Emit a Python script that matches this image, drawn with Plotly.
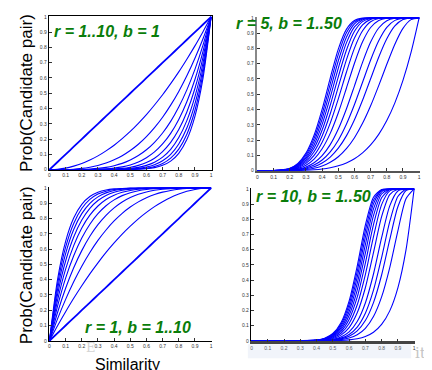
import plotly.graph_objects as go

# ---------------- data ----------------
TICKS = [0, 0.1, 0.2, 0.3, 0.4, 0.5, 0.6, 0.7, 0.8, 0.9, 1]
TICK_TEXT = ["0", "0.1", "0.2", "0.3", "0.4", "0.5", "0.6", "0.7", "0.8", "0.9", "1"]

# top-left: r = 1..10, b = 1
TL_SIM = [0, .05, .1, .15, .2, .25, .3, .35, .4, .45, .5, .55, .6, .65, .7, .75, .8, .85, .9, .95, 1]
TL_R = [1, 2, 3, 4, 5, 6, 7, 8, 9, 10]
TL_PROB = [
    [0, .05, .1, .15, .2, .25, .3, .35, .4, .45, .5, .55, .6, .65, .7, .75, .8, .85, .9, .95, 1],
    [0, .003, .01, .023, .04, .063, .09, .123, .16, .203, .25, .303, .36, .423, .49, .563, .64, .723, .81, .903, 1],
    [0, 0, .001, .003, .008, .016, .027, .043, .064, .091, .125, .166, .216, .275, .343, .422, .512, .614, .729, .857, 1],
    [0, 0, 0, .001, .002, .004, .008, .015, .026, .041, .063, .092, .13, .179, .24, .316, .41, .522, .656, .815, 1],
    [0, 0, 0, 0, 0, .001, .002, .005, .01, .018, .031, .05, .078, .116, .168, .237, .328, .444, .59, .774, 1],
    [0, 0, 0, 0, 0, 0, .001, .002, .004, .008, .016, .028, .047, .075, .118, .178, .262, .377, .531, .735, 1],
    [0, 0, 0, 0, 0, 0, 0, .001, .002, .004, .008, .015, .028, .049, .082, .133, .21, .321, .478, .698, 1],
    [0, 0, 0, 0, 0, 0, 0, 0, .001, .002, .004, .008, .017, .032, .058, .1, .168, .272, .43, .663, 1],
    [0, 0, 0, 0, 0, 0, 0, 0, 0, .001, .002, .005, .01, .021, .04, .075, .134, .232, .387, .63, 1],
    [0, 0, 0, 0, 0, 0, 0, 0, 0, 0, .001, .003, .006, .013, .028, .056, .107, .197, .349, .599, 1],
]

# top-right: r = 5, b = 1..50
TR_SIM = [0, .1, .2, .25, .3, .35, .4, .45, .5, .55, .6, .65, .7, .75, .8, .85, .9, .95, 1]
TR_B = [1, 3, 5, 7, 10, 15, 20, 25, 30, 35, 40, 45, 50]
TR_PROB = [
    [0, 0, .0003, .001, .0024, .0053, .0102, .0185, .0313, .0503, .0778, .116, .1681, .2373, .3277, .4437, .5905, .7738, 1],
    [0, 0, .001, .0029, .0073, .0157, .0304, .0543, .0909, .1435, .2156, .3093, .4243, .5564, .696, .8278, .9313, .9884, 1],
    [0, 0, .0016, .0049, .0121, .026, .0502, .0889, .1468, .2276, .3329, .4603, .6015, .742, .8626, .9467, .9885, .9994, 1],
    [0, 0, .0022, .0068, .0169, .0362, .0695, .1222, .1993, .3034, .4325, .5782, .7242, .8499, .9379, .9835, .9981, 1, 1],
    [0, 0, .0032, .0097, .024, .0513, .0978, .1699, .272, .4033, .5549, .7087, .8412, .9334, .9811, .9972, .9999, 1, 1],
    [0, 0, .0048, .0146, .0358, .0759, .1431, .2437, .379, .5392, .703, .8428, .9367, .9828, .9974, .9998, 1, 1, 1],
    [0, 0, .0064, .0194, .0475, .0999, .1861, .311, .47, .644, .8019, .9151, .9748, .9956, .9996, 1, 1, 1, 1],
    [0, 0, .008, .0241, .059, .1233, .2269, .3722, .5478, .725, .8678, .9542, .99, .9989, 1, 1, 1, 1, 1],
    [0, 0, .0096, .0289, .0704, .1461, .2656, .428, .6142, .7876, .9118, .9753, .996, .9997, 1, 1, 1, 1, 1],
    [0, 0, .0111, .0336, .0816, .1683, .3025, .4789, .6709, .8359, .9412, .9866, .9984, 1, 1, 1, 1, 1, 1],
    [0, 0, .0127, .0383, .0927, .1899, .3375, .5252, .7192, .8733, .9607, .9928, .9994, 1, 1, 1, 1, 1, 1],
    [0, 0, .0143, .043, .1037, .211, .3707, .5674, .7604, .9021, .9738, .9961, .9997, 1, 1, 1, 1, 1, 1],
    [0, 0, .0159, .0477, .1145, .2314, .4023, .6059, .7956, .9244, .9825, .9979, .9999, 1, 1, 1, 1, 1, 1],
]

# bottom-left: r = 1, b = 1..10
BL_SIM = [0, .05, .1, .15, .2, .25, .3, .35, .4, .45, .5, .55, .6, .65, .7, .75, .8, .85, .9, .95, 1]
BL_B = [1, 2, 3, 4, 5, 6, 7, 8, 9, 10]
BL_PROB = [
    [0, .05, .1, .15, .2, .25, .3, .35, .4, .45, .5, .55, .6, .65, .7, .75, .8, .85, .9, .95, 1],
    [0, .098, .19, .278, .36, .438, .51, .578, .64, .698, .75, .798, .84, .878, .91, .938, .96, .978, .99, .998, 1],
    [0, .143, .271, .386, .488, .578, .657, .725, .784, .834, .875, .909, .936, .957, .973, .984, .992, .997, .999, 1, 1],
    [0, .185, .344, .478, .59, .684, .76, .821, .87, .908, .937, .959, .974, .985, .992, .996, .998, .999, 1, 1, 1],
    [0, .226, .41, .556, .672, .763, .832, .884, .922, .95, .969, .982, .99, .995, .998, .999, 1, 1, 1, 1, 1],
    [0, .265, .469, .623, .738, .822, .882, .925, .953, .972, .984, .992, .996, .998, .999, 1, 1, 1, 1, 1, 1],
    [0, .302, .522, .679, .79, .867, .918, .951, .972, .985, .992, .996, .998, .999, 1, 1, 1, 1, 1, 1, 1],
    [0, .337, .57, .728, .832, .9, .942, .968, .983, .992, .996, .998, .999, 1, 1, 1, 1, 1, 1, 1, 1],
    [0, .37, .613, .768, .866, .925, .96, .979, .99, .995, .998, .999, 1, 1, 1, 1, 1, 1, 1, 1, 1],
    [0, .401, .651, .803, .893, .944, .972, .987, .994, .997, .999, 1, 1, 1, 1, 1, 1, 1, 1, 1, 1],
]

# bottom-right: r = 10, b = 1..50
BR_SIM = [0, .2, .4, .45, .5, .55, .6, .65, .7, .75, .8, .85, .9, .95, 1]
BR_B = [1, 3, 5, 7, 10, 15, 20, 25, 30, 35, 40, 45, 50]
BR_PROB = [
    [0, 0, .0001, .0003, .001, .0025, .006, .0135, .0282, .0563, .1074, .1969, .3487, .5987, 1],
    [0, 0, .0003, .001, .0029, .0076, .018, .0399, .0824, .1596, .2888, .482, .7237, .9354, 1],
    [0, 0, .0005, .0017, .0049, .0126, .0299, .0655, .1335, .2516, .4333, .6659, .8828, .9896, 1],
    [0, 0, .0007, .0024, .0068, .0176, .0416, .0905, .1817, .3335, .5485, .7845, .9503, .9983, 1],
    [0, 0, .001, .0034, .0097, .025, .0588, .1268, .2492, .4399, .6789, .8884, .9863, .9999, 1],
    [0, 0, .0016, .0051, .0145, .0373, .087, .184, .3494, .5808, .818, .9627, .9984, 1, 1],
    [0, 0, .0021, .0068, .0193, .0495, .1142, .2374, .4362, .6863, .8969, .9875, .9998, 1, 1],
    [0, 0, .0026, .0085, .0241, .0614, .1407, .2874, .5115, .7652, .9416, .9958, 1, 1, 1],
    [0, 0, .0031, .0101, .0289, .0733, .1664, .3341, .5767, .8243, .9669, .9986, 1, 1, 1],
    [0, 0, .0037, .0118, .0336, .0849, .1912, .3777, .6332, .8685, .9812, .9995, 1, 1, 1],
    [0, 0, .0042, .0135, .0383, .0965, .2154, .4185, .6821, .9016, .9894, .9998, 1, 1, 1],
    [0, 0, .0047, .0152, .043, .1079, .2389, .4567, .7246, .9264, .994, 1, 1, 1, 1],
    [0, 0, .0052, .0169, .0477, .1191, .2616, .4923, .7613, .9449, .9966, 1, 1, 1, 1],
]

PANEL_LABELS = ["r = 1..10, b = 1", "r = 5, b = 1..50", "r = 1, b = 1..10", "r = 10, b = 1..50"]
Y_TITLE = "Prob(Candidate pair)"
X_TITLE = "Similarity"

# ---------------- layout helpers ----------------
W, H = 432, 370
BLUE = "#0000FF"
GREEN = "#0A7D0A"
FONT = "Liberation Sans, Arial, sans-serif"


def xd(a, b):
    return [a / W, b / W]


def yd(top, bottom):
    return [1 - bottom / H, 1 - top / H]


fig = go.Figure()

panels = [
    (TL_SIM, TL_PROB, "x", "y"),
    (TR_SIM, TR_PROB, "x2", "y2"),
    (BL_SIM, BL_PROB, "x3", "y3"),
    (BR_SIM, BR_PROB, "x4", "y4"),
]

for pi, (sim, curves, xa, ya) in enumerate(panels):
    for ci, vals in enumerate(curves):
        w = 1.1
        if ci == 0 and pi in (0, 2):
            w = 1.8
        fig.add_trace(go.Scatter(
            x=sim, y=vals, xaxis=xa, yaxis=ya, mode="lines",
            line=dict(color=BLUE, width=w, shape="spline", smoothing=0.7),
            showlegend=False, hoverinfo="skip",
        ))

tickfont = dict(family=FONT, size=5, color="#333333")


def ax(domain, anchor, linecolor="black", linewidth=1, mirror=False):
    return dict(
        domain=domain, anchor=anchor, range=[-0.004, 1.006],
        showline=True, linecolor=linecolor, linewidth=linewidth, mirror=mirror,
        showgrid=False, zeroline=False,
        ticks="inside", ticklen=3, tickcolor="#333333", tickwidth=1,
        tickvals=TICKS, ticktext=TICK_TEXT, tickfont=tickfont,
        fixedrange=True,
    )


fig.update_layout(
    width=W, height=H,
    margin=dict(l=0, r=0, t=0, b=0),
    paper_bgcolor="white", plot_bgcolor="white",
    showlegend=False,
    xaxis=ax(xd(40, 204), "y", mirror=True),
    yaxis=ax(yd(6, 162), "x", mirror=True),
    xaxis2=ax(xd(249, 413), "y2", linecolor="#555555", linewidth=2),
    yaxis2=ax(yd(7, 163), "x2", linecolor="#888888", linewidth=2),
    xaxis3=ax(xd(40, 204), "y3"),
    yaxis3=ax(yd(179, 335), "x3"),
    xaxis4=ax(xd(243, 408), "y4", linecolor="#444444", linewidth=2.5),
    yaxis4=ax(yd(180, 335), "x4"),
)

annotations = []
label_pos = [(98, 22), (281, 14), (130, 321), (306, 189)]
for text, (px, py) in zip(PANEL_LABELS, label_pos):
    annotations.append(dict(
        text=f"<b><i>{text}</i></b>", x=px / W, y=1 - py / H, xref="paper", yref="paper",
        showarrow=False, xanchor="center", yanchor="middle",
        font=dict(family=FONT, size=16, color=GREEN),
    ))
for py in (84, 258):
    annotations.append(dict(
        text=Y_TITLE, x=17 / W, y=1 - py / H, xref="paper", yref="paper",
        showarrow=False, textangle=-90, xanchor="center", yanchor="middle",
        font=dict(family=FONT, size=17, color="black"),
    ))
annotations.append(dict(
    text=X_TITLE, x=119 / W, y=1 - 358 / H, xref="paper", yref="paper",
    showarrow=False, xanchor="center", yanchor="middle",
    font=dict(family=FONT, size=16, color="black"),
))
# faint watermark remnants
annotations.append(dict(
    text="E", x=75 / W, y=1 - 351 / H, xref="paper", yref="paper", showarrow=False,
    font=dict(family="DejaVu Serif, serif", size=13, color="#d4d4d4"),
))
annotations.append(dict(
    text="it", x=421 / W, y=1 - 358 / H, xref="paper", yref="paper", showarrow=False,
    font=dict(family="DejaVu Serif, serif", size=15, color="#c4c4c4"),
))
fig.update_layout(annotations=annotations)

fig.update_layout(shapes=[
    dict(type="rect", xref="paper", yref="paper",
         x0=240 / W, x1=404 / W, y0=1 - 352 / H, y1=1 - 338 / H,
         line=dict(width=0), fillcolor="rgba(200,212,235,0.25)", layer="above"),
])

fig.write_html("out.html")
